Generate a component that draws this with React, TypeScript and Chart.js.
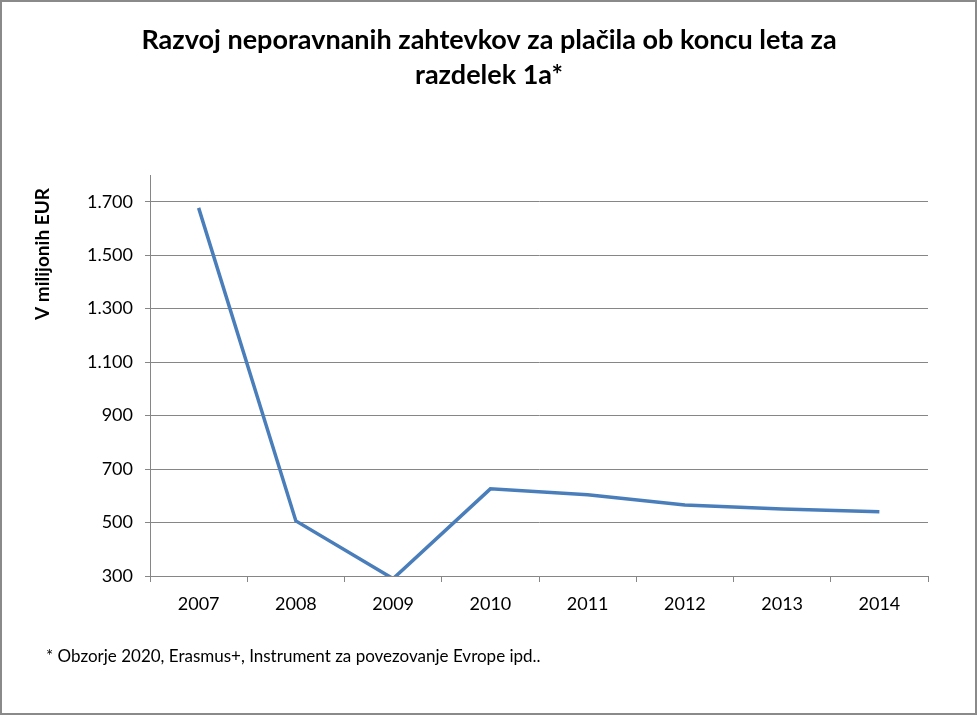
import React, { useEffect, useRef } from "react";
import { Chart, registerables } from "chart.js";

Chart.register(...registerables);

const years = ["2007", "2008", "2009", "2010", "2011", "2012", "2013", "2014"];
const outstanding = [1677, 506, 290, 626, 604, 566, 551, 540];
const yTicks = [300, 500, 700, 900, 1100, 1300, 1500, 1700];
const titleLines = ["Razvoj neporavnanih zahtevkov za plačila ob koncu leta za", "razdelek 1a*"];
const yTitle = "V milijonih EUR";
const footnote = "* Obzorje 2020, Erasmus+, Instrument za povezovanje Evrope ipd..";

const FONT = "Lato, 'Open Sans', sans-serif";

const fmt = (v: number) => String(v).replace(/\B(?=(\d{3})+(?!\d))/g, ".");

const textPlugin = {
  id: "texts",
  afterDraw(chart: any) {
    const ctx = chart.ctx;
    ctx.save();
    ctx.fillStyle = "#000";
    ctx.textBaseline = "middle";
    ctx.textAlign = "center";
    ctx.font = `bold 27px ${FONT}`;
    ctx.fillText(titleLines[0], 489, 40);
    ctx.fillText(titleLines[1], 489, 75);
    ctx.textAlign = "left";
    ctx.font = `17px ${FONT}`;
    ctx.fillText(footnote, 46, 657);
    ctx.translate(43, 254);
    ctx.rotate(-Math.PI / 2);
    ctx.textAlign = "center";
    ctx.font = `bold 19px ${FONT}`;
    ctx.fillText(yTitle, 0, 0);
    ctx.restore();
  },
};

export default function App() {
  const ref = useRef<HTMLCanvasElement>(null);
  useEffect(() => {
    document.body.style.margin = "0";
    const chart = new Chart(ref.current!, {
      type: "line",
      data: {
        labels: years,
        datasets: [
          {
            data: outstanding,
            borderColor: "#4A7EBB",
            borderWidth: 3.5,
            pointRadius: 0,
            tension: 0,
          },
        ],
      },
      options: {
        animation: false,
        responsive: false,
        maintainAspectRatio: false,
        layout: { padding: { top: 175, left: 0, right: 49, bottom: 0 } },
        plugins: { legend: { display: false }, title: { display: false }, tooltip: { enabled: false } },
        scales: {
          x: {
            offset: true,
            grid: { offset: true, drawOnChartArea: false, drawTicks: true, tickLength: 6, color: "#868686" },
            border: { display: true, color: "#868686", width: 1 },
            ticks: { color: "#000", font: { family: FONT, size: 18 }, padding: 11, maxRotation: 0 },
            afterFit: (s: any) => { s.height = 715 - 576; },
          },
          y: {
            min: 300,
            max: 1800,
            afterBuildTicks: (s: any) => { s.ticks = yTicks.map((v) => ({ value: v })); },
            grid: { color: "#868686", tickLength: 5, drawTicks: true },
            border: { display: true, color: "#868686", width: 1 },
            ticks: { color: "#000", font: { family: FONT, size: 18 }, padding: 12, callback: (v: any) => fmt(Number(v)) },
            afterFit: (s: any) => { s.width = 150; },
          },
        },
      },
      plugins: [textPlugin],
    });
    return () => chart.destroy();
  }, []);
  return (
    <div style={{ position: "absolute", left: 0, top: 0, width: 977, height: 715, background: "#fff" }}>
      <canvas ref={ref} width={977} height={715} style={{ width: 977, height: 715, display: "block" }} />
      <div style={{ position: "absolute", left: 0, top: 0, width: 977, height: 715, boxSizing: "border-box", border: "2px solid #8a8a8a", pointerEvents: "none" }} />
    </div>
  );
}
